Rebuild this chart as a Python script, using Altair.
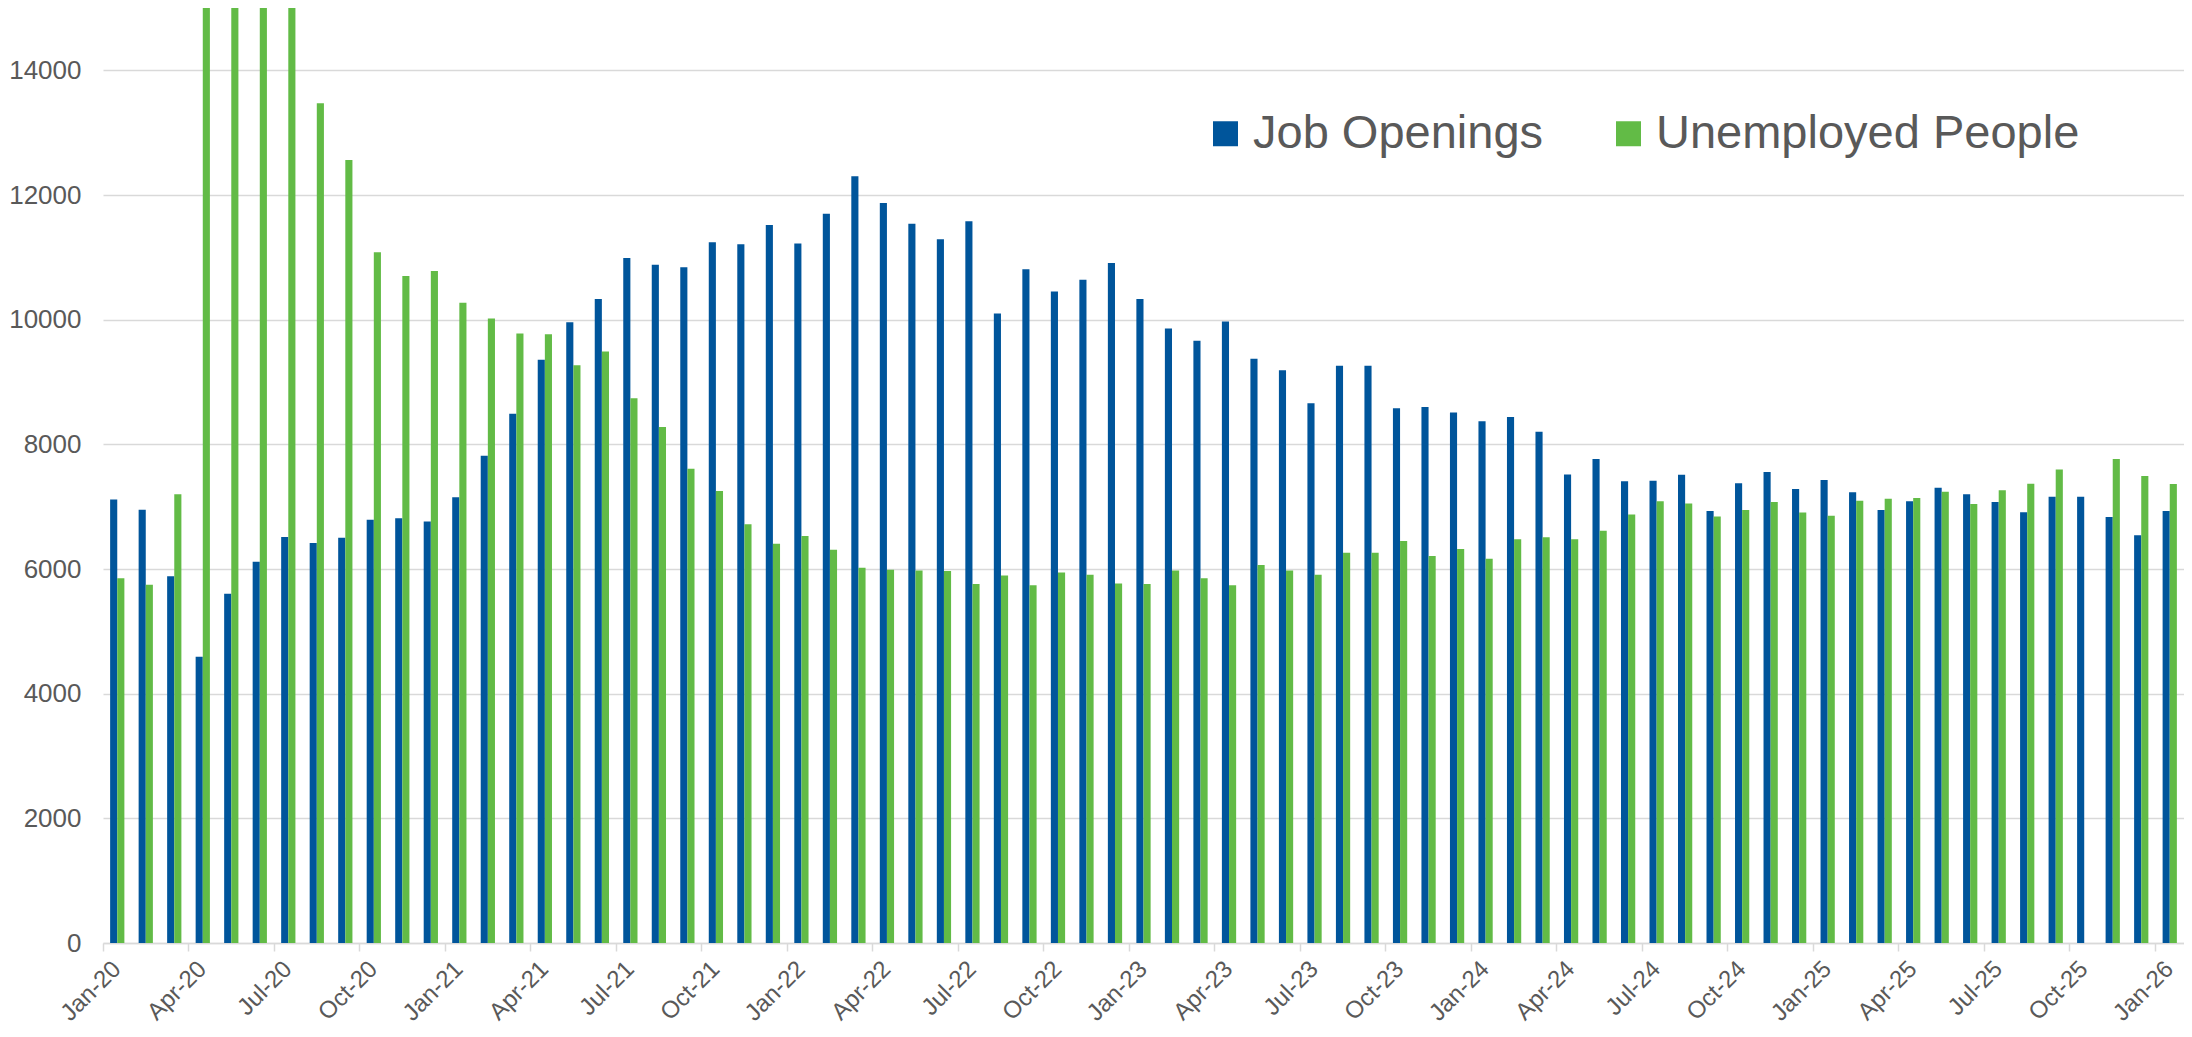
import altair as alt
import pandas as pd

months = list(pd.date_range("2020-01-01", "2026-01-01", freq="MS").strftime("%b-%y"))

job_openings = [
    7114, 6951, 5883, 4593, 5603, 6118, 6515, 6417, 6502, 6789, 6815, 6763,
    7153, 7818, 8489, 9355, 9958, 10330, 10990, 10880, 10840, 11240, 11210, 11520,
    11220, 11700, 12300, 11870, 11540, 11290, 11580, 10100, 10810, 10450, 10640, 10910,
    10330, 9860, 9660, 9970, 9375, 9190, 8660, 9260, 9260, 8580, 8600, 8510,
    8372, 8437, 8202, 7518, 7766, 7407, 7414, 7512, 6932, 7375, 7557, 7284,
    7427, 7232, 6945, 7088, 7303, 7199, 7075, 6912, 7160, 7160, 6834, 6541,
    6932,
]

unemployed = [
    5850, 5746, 7199, 23000, 20900, 17800, 16300, 13470, 12560, 11080, 10700, 10780,
    10270, 10020, 9780, 9766, 9270, 9490, 8740, 8280, 7610, 7251, 6717, 6404,
    6528, 6307, 6020, 5987, 5974, 5968, 5759, 5896, 5740, 5942, 5909, 5766,
    5759, 5974, 5850, 5740, 6066, 5974, 5909, 6261, 6261, 6450, 6209, 6320,
    6163, 6476, 6508, 6476, 6613, 6873, 7088, 7049, 6841, 6945, 7075, 6906,
    6854, 7095, 7127, 7140, 7238, 7043, 7264, 7368, 7597, None, 7766, 7492,
    7362,
]

series_names = ["Job Openings", "Unemployed People"]
series_colors = ["#00559B", "#62BB46"]
tick_labels = months[::3]
y_ticks = list(range(0, 14001, 2000))

rows = []
for m, jo, up in zip(months, job_openings, unemployed):
    rows.append({"month": m, "series": series_names[0], "value": jo})
    if up is not None:
        rows.append({"month": m, "series": series_names[1], "value": up})
df = pd.DataFrame(rows)

FONT = "Liberation Sans"
GRAY = "#595959"
LINE = "#D9D9D9"

chart = (
    alt.Chart(df)
    .mark_bar(clip=True)
    .encode(
        x=alt.X(
            "month:N",
            sort=months,
            scale=alt.Scale(domain=months, paddingInner=0, paddingOuter=0),
            axis=alt.Axis(
                values=tick_labels,
                bandPosition=0,
                title=None,
                grid=False,
                labelAngle=-45,
                labelAlign="right",
                labelBaseline="middle",
                labelFont=FONT,
                labelFontSize=24,
                labelColor=GRAY,
                labelPadding=14,
                labelOverlap=False,
                tickColor=LINE,
                tickSize=8,
                tickWidth=1.5,
                domainColor=LINE,
                domainWidth=1.5,
            ),
        ),
        xOffset=alt.XOffset(
            "series:N",
            sort=series_names,
            scale=alt.Scale(domain=series_names, paddingInner=0, paddingOuter=1),
        ),
        y=alt.Y(
            "value:Q",
            scale=alt.Scale(domain=[0, 15000], nice=False, zero=True),
            axis=alt.Axis(
                values=y_ticks,
                format="d",
                title=None,
                grid=True,
                gridColor=LINE,
                gridWidth=1.5,
                domain=False,
                ticks=False,
                labelFont=FONT,
                labelFontSize=26,
                labelColor=GRAY,
                labelPadding=22,
            ),
        ),
        color=alt.Color(
            "series:N",
            scale=alt.Scale(domain=series_names, range=series_colors),
            legend=alt.Legend(
                title=None,
                orient="none",
                direction="horizontal",
                legendX=1099,
                legendY=102,
                symbolType="square",
                symbolSize=625,
                symbolStrokeWidth=0,
                labelFont=FONT,
                labelFontSize=47,
                labelColor=GRAY,
                labelLimit=1000,
                labelOffset=4,
                columnPadding=61,
                padding=0,
            ),
        ),
    )
    .properties(
        width=2081,
        height=935,
        autosize=alt.AutoSizeParams(type="none"),
        padding={"left": 95, "top": 0, "right": 0, "bottom": 86},
        background="white",
    )
    .configure_view(stroke=None)
)

chart.save("out.html", embed_options={"renderer": "svg", "actions": False})
